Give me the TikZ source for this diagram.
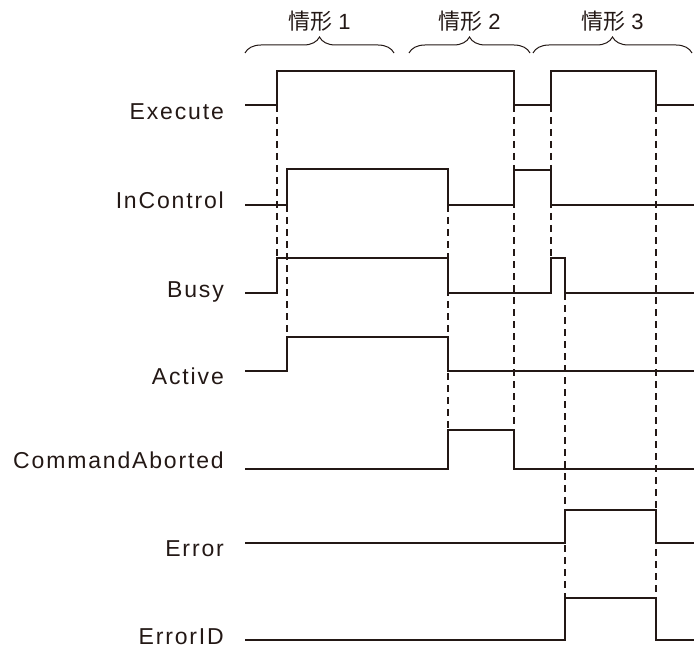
\documentclass[tikz,border=0pt]{standalone}
\usepackage{fontspec}
\setmainfont{Liberation Sans}
\newfontfamily\lblfont{Liberation Sans}[LetterSpace=8]
\newfontfamily\cjk{Noto Sans CJK SC}
\usetikzlibrary{decorations.pathreplacing}
\definecolor{InkBlack}{RGB}{35,24,21}
\tikzset{
  sig/.style={InkBlack,line width=1.1pt},
  guide/.style={InkBlack,line width=1.1pt,dash pattern=on 7pt off 5pt},
  siglabel/.style={anchor=base east,inner sep=0pt,text=InkBlack,font=\lblfont\fontsize{23}{27}\selectfont},
  phase/.style={InkBlack,line width=1pt,decorate,decoration={brace,amplitude=16pt}},
  phaselabel/.style={text=InkBlack,inner sep=0pt,font=\fontsize{22}{26}\selectfont}
}
\newcommand{\phasebrace}[4]{%
  \draw[phase] (#1,53)--(#2,53);
  \node[phaselabel] (#4) at ({(#1+#2)/2},21) {{\cjk 情形} #3};}

\begin{document}
\begin{tikzpicture}[x=1pt,y=-1pt]
  \useasboundingbox (0,0) rectangle (694,650);
  % cases
  \phasebrace{245}{394}{1}{case1}
  \phasebrace{409}{530}{2}{case2}
  \phasebrace{533}{692}{3}{case3}
  % signal names
  \node[siglabel] (lExecute) at (224,120) {Execute};
  \node[siglabel] (lInControl) at (224,209) {InControl};
  \node[siglabel] (lBusy) at (224,297) {Busy};
  \node[siglabel] (lActive) at (224,384) {Active};
  \node[siglabel] (lAborted) at (224,468) {CommandAborted};
  \node[siglabel] (lError) at (224,556) {Error};
  \node[siglabel] (lErrorID) at (224,644) {ErrorID};
  % waveforms
  \draw[sig] (245,105)--(277,105) coordinate (ex1)--(277,71)--(514,71)--(514,105) coordinate (ex2)
    --(551,105) coordinate (ex3)--(551,71)--(656,71)--(656,105) coordinate (ex4)--(694,105);
  \draw[sig] (245,205)--(287,205) coordinate (ic1)--(287,169)--(448,169) coordinate (ic2)--(448,205)
    --(514,205)--(514,170)--(551,170)--(551,205)--(694,205);
  \draw[sig] (245,293)--(277,293)--(277,258) coordinate (bu1)--(448,258)--(448,293)
    --(551,293)--(551,258) coordinate (bu2)--(565,258)--(565,293) coordinate (bu3)--(694,293);
  \draw[sig] (245,371)--(287,371)--(287,337) coordinate (ac1)--(448,337)--(448,371)--(694,371);
  \draw[sig] (245,469)--(448,469)--(448,430) coordinate (ca1)--(514,430) coordinate (ca2)
    --(514,469)--(694,469);
  \draw[sig] (245,543)--(565,543)--(565,510)--(656,510)--(656,543)--(694,543);
  \draw[sig] (245,640)--(565,640)--(565,598) coordinate (ei1)--(656,598) coordinate (ei2)
    --(656,640)--(694,640);
  % timing guides
  \draw[guide] (ex1)--(bu1);
  \draw[guide] (ic1)--(ac1);
  \draw[guide] (ic2)--(ca1);
  \draw[guide] (ex2)--(ca2);
  \draw[guide] (ex3)--(bu2);
  \draw[guide] (bu3)--(ei1);
  \draw[guide] (ex4)--(ei2);
\end{tikzpicture}
\end{document}
